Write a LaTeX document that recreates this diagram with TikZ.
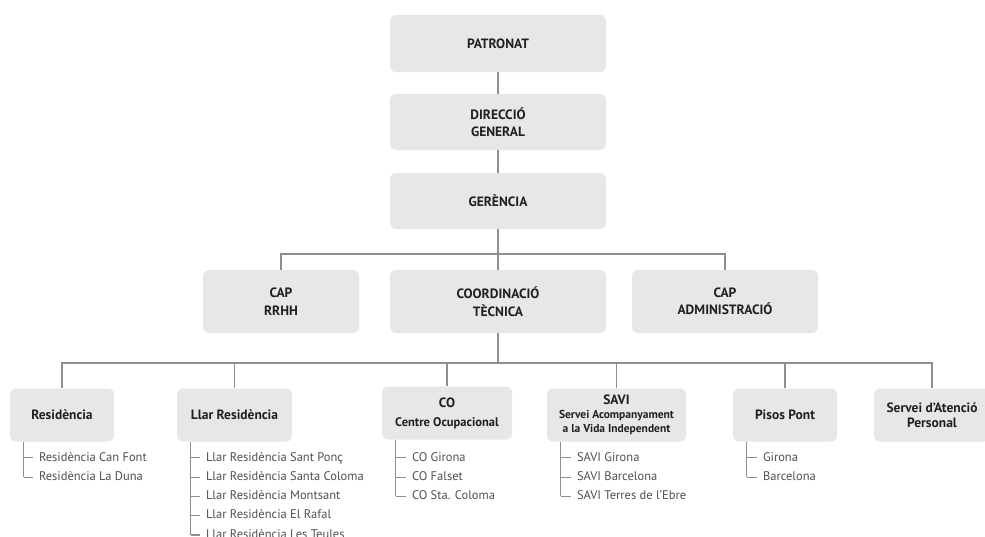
\documentclass[tikz,border=0pt]{standalone}
\usepackage{fontspec}
\setmainfont{PT Sans}
\usetikzlibrary{positioning, calc}

\definecolor{boxgray}{HTML}{E6E7E9}
\definecolor{linegray}{HTML}{8E8E8E}
\definecolor{itemgray}{HTML}{505050}
\definecolor{labelblack}{HTML}{231F20}

\tikzset{
    box/.style={fill=boxgray, rounded corners=6pt, align=center, inner sep=0pt,
        text=labelblack, font=\bfseries\fontsize{13.5}{17.5}\selectfont},
    conn/.style={draw=linegray, line width=1.1pt},
    item/.style={anchor=west, inner sep=0pt, text height=9pt, text depth=2.5pt,
        text=itemgray, font=\fontsize{12.5}{14}\selectfont},
}

\begin{document}
\begin{tikzpicture}[x=1pt, y=-1pt]
        \useasboundingbox (0,0) rectangle (985,536);
        \clip (0,0) rectangle (985,536);
        \fill[white] (0,0) rectangle (985,536);

        \node[box, minimum width=216pt, minimum height=57pt] (patronat) at (498,43.5) {PATRONAT};
        \node[box, minimum width=216pt, minimum height=56pt] (direccio) at (498,122) {DIRECCIÓ\\GENERAL};
        \node[box, minimum width=216pt, minimum height=56pt] (gerencia) at (498,201) {GERÈNCIA};

        \node[box, minimum width=156pt, minimum height=63pt] (rrhh) at (281,301.5) {CAP\\RRHH};
        \node[box, minimum width=216pt, minimum height=63pt] (coord) at (498,301.5) {COORDINACIÓ\\TÈCNICA};
        \node[box, minimum width=186pt, minimum height=63pt] (admin) at (725,301.5) {CAP\\ADMINISTRACIÓ};

        \node[box, minimum width=104pt, minimum height=53pt] (residencia) at (62,415) {Residència};
        \node[box, minimum width=115pt, minimum height=53pt] (llar) at (234.5,415) {Llar Residència};
        \node[box, minimum width=130pt, minimum height=53pt, font=\bfseries\fontsize{12.5}{19}\selectfont] (co) at (447,413) {{\fontsize{13.5}{19}\selectfont CO}\\Centre Ocupacional};
        \node[box, minimum width=139pt, minimum height=53pt, font=\bfseries\fontsize{11.5}{14}\selectfont] (savi) at (616.5,415) {{\fontsize{13.5}{14}\selectfont SAVI}\\Servei Acompanyament\\a la Vida Independent};
        \node[box, minimum width=104pt, minimum height=53pt] (pisos) at (785,415) {Pisos Pont};
        \node[box, minimum width=116pt, minimum height=53pt, font=\bfseries\fontsize{13.5}{15}\selectfont] (servei) at (932,415) {Servei d’Atenció\\Personal};

        % main line
        \coordinate (bus1) at (0,254);
        \coordinate (bus2) at (0,363);
        \draw[conn] (patronat) -- (direccio);
        \draw[conn] (direccio) -- (gerencia);
        \draw[conn] (gerencia.south) -- (gerencia.south |- bus1);
        \draw[conn] (rrhh.north) -- (rrhh.north |- bus1) -- (admin.north |- bus1) -- (admin.north);
        \draw[conn] (coord.north) -- (coord.north |- bus1);
        \draw[conn] (coord.south) -- (coord.south |- bus2);
        \draw[conn] (residencia.north) -- (residencia.north |- bus2) -- (servei.north |- bus2) -- (servei.north);
        \foreach \n in {llar,co,savi,pisos} {
            \draw[conn] (\n.north) -- (\n.north |- bus2);
        }

        % centres
        \coordinate (resbr) at ([xshift=14pt]residencia.south west);
        \foreach \t [count=\i] in {Residència Can Font, Residència La Duna} {
            \node[item] (res-\i) at ($(resbr)+(15,-3.2+19.3*\i)$) {\t};
            \draw[conn] (resbr |- res-\i.west) -- ++(9,0);
        }
        \draw[conn] (resbr) -- (resbr |- res-2.west);

        \coordinate (llarbr) at ([xshift=14pt]llar.south west);
        \foreach \t [count=\i] in {Llar Residència Sant Ponç, Llar Residència Santa Coloma, Llar Residència Montsant, Llar Residència El Rafal, Llar Residència Les Teules} {
            \node[item] (llar-\i) at ($(llarbr)+(15,-3.2+19.3*\i)$) {\t};
            \draw[conn] (llarbr |- llar-\i.west) -- ++(9,0);
        }
        \draw[conn] (llarbr) -- (llarbr |- llar-5.west);

        \coordinate (cobr) at ([xshift=14pt]co.south west);
        \foreach \t [count=\i] in {CO Girona, CO Falset, CO Sta. Coloma} {
            \node[item] (co-\i) at ($(cobr)+(16,-1.2+19.3*\i)$) {\t};
            \draw[conn] (cobr |- co-\i.west) -- ++(10,0);
        }
        \draw[conn] (cobr) -- (cobr |- co-3.west);

        \coordinate (savibr) at ([xshift=14pt]savi.south west);
        \foreach \t [count=\i] in {SAVI Girona, SAVI Barcelona, SAVI Terres de l’Ebre} {
            \node[item] (savi-\i) at ($(savibr)+(16,-3.2+19.3*\i)$) {\t};
            \draw[conn] (savibr |- savi-\i.west) -- ++(10,0);
        }
        \draw[conn] (savibr) -- (savibr |- savi-3.west);

        \coordinate (pisosbr) at ([xshift=14pt]pisos.south west);
        \foreach \t [count=\i] in {Girona, Barcelona} {
            \node[item] (pisos-\i) at ($(pisosbr)+(16,-3.2+19.3*\i)$) {\t};
            \draw[conn] (pisosbr |- pisos-\i.west) -- ++(10,0);
        }
        \draw[conn] (pisosbr) -- (pisosbr |- pisos-2.west);
\end{tikzpicture}
\end{document}
